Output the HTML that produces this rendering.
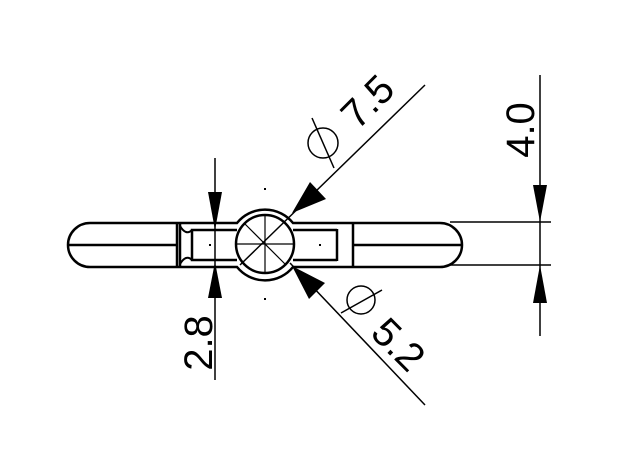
<!DOCTYPE html>
<html><head><style>html,body{margin:0;padding:0;background:#fff}svg{display:block}</style></head>
<body>
<svg width="618" height="463" viewBox="0 0 618 463" xmlns="http://www.w3.org/2000/svg" font-family="Liberation Sans, sans-serif">
<g fill="none" stroke="#000" stroke-width="2.5">
<!-- handle -->
<path d="M90,223 H237 A36,36 0 0 1 293,223 H440 A22,22 0 0 1 440,267 H293 A36,36 0 0 1 237,267 H90 A22,22 0 0 1 90,223 Z"/>
<line x1="68" y1="245" x2="177" y2="245"/>
<line x1="353" y1="245" x2="461" y2="245"/>
<line x1="177" y1="223" x2="177" y2="267"/>
<line x1="180" y1="223" x2="180" y2="267"/>
<line x1="353" y1="223" x2="353" y2="267"/>
<line x1="337" y1="229" x2="337" y2="261"/>
<path d="M237,230 H192 V260 H237"/>
<path d="M293,230 H337 M293,260 H337"/>
<path d="M180,226 Q186,236 192,230 M180,264 Q186,254 192,260" stroke-width="2"/>
<circle cx="265" cy="244" r="29"/>
</g>
<g stroke="#000" stroke-width="1.2">
<line x1="265" y1="215" x2="265" y2="273"/>
<line x1="236" y1="244" x2="294" y2="244"/>
<line x1="245" y1="224" x2="285" y2="264"/>
</g>
<g stroke="#000" stroke-width="1.5" fill="none">
<line x1="425" y1="85" x2="240" y2="265"/>
<line x1="290" y1="263" x2="425" y2="405"/>
<line x1="215" y1="158" x2="215" y2="380"/>
<line x1="540" y1="75" x2="540" y2="336"/>
<line x1="450" y1="222" x2="551" y2="222"/>
<line x1="450" y1="265" x2="551" y2="265"/>
<circle cx="323" cy="143" r="15"/>
<line x1="312" y1="118" x2="334" y2="168"/>
<circle cx="361" cy="300" r="14"/>
<line x1="341" y1="313" x2="382" y2="290"/>
</g>
<g fill="#000">
<polygon points="215,230 208,192 222,192"/>
<polygon points="215,262 208,298 222,298"/>
<polygon points="540,222 533,185 547,185"/>
<polygon points="540,265 533,303 547,303"/>
<polygon points="292,213 310,182 326,199"/>
<polygon points="292,266 325,283 309,299"/>
</g>
<g font-size="40" fill="#000" text-anchor="middle" dominant-baseline="central">
<text transform="translate(199,343) rotate(-90)">2.8</text>
<text transform="translate(521,130) rotate(-90)">4.0</text>
<text transform="translate(368,102) rotate(-45)">7.5</text>
<text transform="translate(398,345) rotate(45)">5.2</text>
</g>
<g fill="#000">
<rect x="264" y="188" width="2" height="2"/>
<rect x="264" y="298" width="2" height="2"/>
<rect x="209" y="244" width="2" height="2"/>
<rect x="319" y="244" width="2" height="2"/>
</g>
</svg>
</body></html>
